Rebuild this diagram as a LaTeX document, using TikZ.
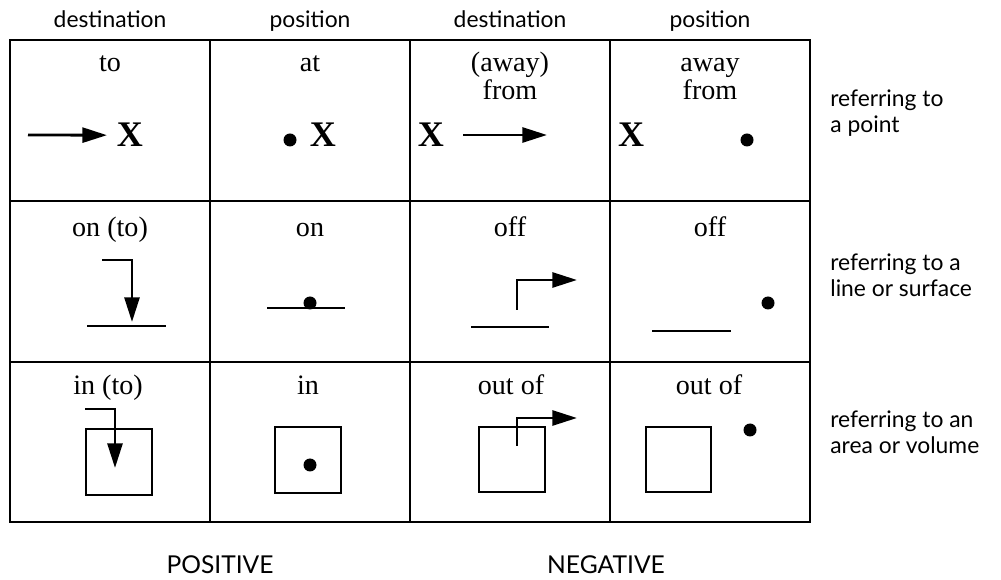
\documentclass[tikz,border=0pt]{standalone}
\usepackage{fontspec}
\setmainfont{Liberation Serif}
\newfontfamily\gillsans{Lato}
\usetikzlibrary{arrows.meta}

\begin{document}
\begin{tikzpicture}[
  x=0.02cm, y=-0.02cm,
  every node/.style={inner sep=0pt},
  word/.style={font=\fontsize{16}{18}\selectfont, anchor=base},
  head/.style={font=\gillsans\fontsize{13}{16}\selectfont, anchor=base},
  foot/.style={font=\gillsans\fontsize{14}{16}\selectfont, anchor=base},
  side/.style={font=\gillsans\fontsize{13}{14.8}\selectfont, align=left, anchor=west},
  bigx/.style={font=\bfseries\fontsize{20.5}{24}\selectfont, anchor=base},
  grid/.style={line width=0.9pt},
  stroke/.style={line width=1.6pt},
  move/.style={line width=1.6pt, -{Triangle[length=14pt, width=8.5pt]}},
  dot/.style={fill=black, circle, minimum size=0.26cm}
]
\useasboundingbox (0,0) rectangle (1001,580);

% ====== TABLE ======
\draw[grid] (10,40) rectangle (810,522);
\foreach \cx in {210,410,610}
  \draw[grid] (\cx,40) -- (\cx,522);
\foreach \ry in {201,362}
  \draw[grid] (10,\ry) -- (810,\ry);

\foreach \cx/\txt [count=\i] in {110/destination, 310/position, 510/destination, 710/position}
  \node[head] (hd\i) at (\cx,28) {\txt};

% ====== ROW 1: point ======
\node[word] (to) at (110,72) {to};
\node[bigx] (x1) at (130,147) {X};
\coordinate (s1) at (28,135);
\draw[move, shorten >=5.5pt] (s1) -- (x1.west);

\node[word] (at) at (310,72) {at};
\node[dot] (d2) at (290,140) {};
\node[bigx] (x2) at (323,147) {X};

\node[word] (away) at (510,72) {(away)};
\node[word] (from) at (510,100) {from};
\node[bigx] (x3) at (431,147) {X};
\coordinate (s3) at (463,135);
\coordinate (e3) at (547,135);
\draw[move] (s3) -- (e3);

\node[word] (away2) at (710,72) {away};
\node[word] (from2) at (710,100) {from};
\node[bigx] (x4) at (631,147) {X};
\node[dot] (d4) at (747,140) {};

% ====== ROW 2: line or surface ======
\node[word] (onto) at (110,237) {on (to)};
\draw[move] (102,260) -| (132,322);
\draw[stroke] (87,326) -- (166,326);

\node[word] (on) at (310,237) {on};
\draw[stroke] (267,308) -- (345,308);
\node[dot] (d6) at (310,303) {};

\node[word] (off) at (510,237) {off};
\draw[move] (517,310) |- (577,280);
\draw[stroke] (471,327) -- (549,327);

\node[word] (off2) at (710,237) {off};
\draw[stroke] (652,331) -- (731,331);
\node[dot] (d8) at (768,303) {};

% ====== ROW 3: area or volume ======
\node[word] (into) at (108,395) {in (to)};
\draw[stroke] (86,429) rectangle (152,495);
\draw[move] (85,409) -| (115,468);

\node[word] (in) at (308,395) {in};
\draw[stroke] (275,427) rectangle (341,493);
\node[dot] (d10) at (310,465) {};

\node[word] (outof) at (511,395) {out of};
\draw[stroke] (479,427) rectangle (545,492);
\draw[move] (517,446) |- (577,418);

\node[word] (outof2) at (709,395) {out of};
\draw[stroke] (646,427) rectangle (711,492);
\node[dot] (d12) at (750,430) {};

% ====== SIDE AND BOTTOM LABELS ======
\node[side] (pt) at (830,113) {referring to\\a point};
\node[side] (ln) at (830,275) {referring to a\\line or surface};
\node[side] (ar) at (830,432) {referring to an\\area or volume};

\node[foot] (pos) at (220,574) {POSITIVE};
\node[foot] (neg) at (606,574) {NEGATIVE};

\end{tikzpicture}
\end{document}
